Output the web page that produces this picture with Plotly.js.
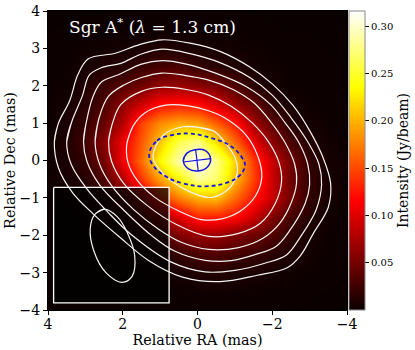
<!DOCTYPE html>
<html><head><meta charset="utf-8">
<script src="https://cdn.plot.ly/plotly-3.0.1.min.js"></script>
<style>html,body{margin:0;padding:0;background:#fff}#c{width:415px;height:350px}</style></head>
<body><div id="c"></div>
<script>
const ra=[4,3.5,3,2.5,2,1.5,1,.5,0,-.5,-1,-1.5,-2,-2.5,-3,-3.5,-4];
const dec=[4,3.5,3,2.5,2,1.5,1,.5,0,-.5,-1,-1.5,-2,-2.5,-3,-3.5,-4];
const intensity=[
[.0001,.0001,.0002,.0002,.0002,.0003,.0004,.0004,.0003,.0003,.0002,.0002,.0001,.0001,.0001,.0001,.0001],
[.0002,.0003,.0004,.0006,.0009,.0015,.002,.002,.0016,.0012,.0008,.0005,.0003,.0002,.0002,.0001,.0001],
[.0003,.0006,.002,.003,.0045,.0075,.0098,.0085,.0065,.005,.003,.002,.001,.0006,.0004,.0002,.0002],
[.0004,.001,.006,.0105,.013,.021,.028,.03,.019,.015,.0098,.0045,.002,.001,.0005,.0003,.0002],
[.0005,.002,.011,.023,.036,.048,.065,.068,.062,.052,.032,.014,.0055,.001,.0005,.0003,.0002],
[.001,.005,.015,.03,.063,.09,.12,.125,.12,.095,.066,.042,.015,.0055,.001,.0005,.0003],
[.001,.008,.02,.043,.08,.145,.18,.195,.19,.16,.125,.07,.039,.012,.004,.001,.0005],
[.002,.01,.025,.06,.11,.155,.21,.26,.28,.22,.165,.105,.06,.03,.01,.003,.001],
[.002,.0085,.019,.05,.11,.165,.235,.29,.316,.28,.215,.14,.09,.047,.019,.005,.002],
[.002,.0055,.012,.032,.08,.14,.19,.235,.285,.27,.205,.145,.09,.047,.018,.006,.002],
[.001,.002,.007,.016,.037,.08,.14,.175,.2,.205,.165,.125,.09,.048,.018,.0055,.001],
[.0005,.001,.002,.009,.016,.04,.07,.1,.13,.13,.12,.09,.055,.027,.012,.003,.0005],
[.0003,.0005,.001,.002,.0055,.014,.029,.055,.068,.068,.055,.047,.033,.016,.006,.001,.0003],
[.0002,.0003,.0004,.0008,.002,.0055,.011,.02,.03,.033,.027,.021,.0145,.0092,.0035,.0006,.0002],
[.0002,.0002,.0003,.0004,.0007,.0015,.003,.0055,.0095,.0105,.0085,.0065,.0048,.002,.001,.0004,.0002],
[.0001,.0001,.0002,.0002,.0003,.0005,.0008,.0012,.002,.0025,.002,.0016,.001,.0006,.0003,.0002,.0001],
[.0001,.0001,.0001,.0001,.0001,.0002,.0002,.0003,.0004,.0005,.0004,.0003,.0002,.0002,.0001,.0001,.0001]];

const c1ra=[3.83,3.72,3.42,3.2,2.92,2.2,1.55,.95,.2,-.6,-1.4,-2.0,-2.55,-3.0,-3.35,-3.56,-3.5,-3.1,-2.75,-2.4,-1.6,-.6,.4,1.3,2.07,2.8,3.35,3.72,3.83];
const c1dec=[.5,1.0,1.6,2.3,2.72,2.87,3.1,3.23,3.14,2.92,2.5,2.05,1.48,.8,.1,-.6,-1.25,-1.95,-2.55,-2.87,-3.07,-3.24,-3.12,-2.68,-2.06,-1.42,-.85,-.2,.5];
const c2ra=[3.5,3.36,3.08,2.9,2.58,2.05,1.5,.95,.2,-.6,-1.4,-2.0,-2.5,-2.95,-3.25,-3.32,-3.17,-2.75,-2.38,-1.8,-1.0,-.2,.7,1.8,2.4,2.96,3.38,3.5];
const c2dec=[.5,1.05,1.73,2.28,2.48,2.6,2.85,2.98,2.86,2.62,2.22,1.75,1.15,.5,-.1,-.65,-1.33,-2.05,-2.53,-2.75,-2.94,-2.98,-2.72,-1.96,-1.38,-.76,-.1,.5];
const c3ra=[3.05,2.98,2.8,2.57,2.1,1.5,.95,.3,-.5,-1.3,-1.95,-2.35,-2.7,-2.95,-3.0,-2.88,-2.47,-2.1,-1.6,-.9,-.2,.6,1.2,1.95,2.62,2.96,3.05];
const c3dec=[.5,1.0,1.7,2.1,2.3,2.58,2.67,2.58,2.33,1.98,1.5,1.0,.5,-.1,-.65,-1.15,-1.87,-2.3,-2.5,-2.68,-2.67,-2.43,-2.03,-1.35,-.65,-.02,.5];
const c4ra=[2.74,2.63,2.38,1.97,1.5,.95,.35,-.3,-.95,-1.5,-1.95,-2.33,-2.6,-2.65,-2.5,-2.2,-1.75,-1.1,-.3,.45,1.05,1.7,2.28,2.62,2.74];
const c4dec=[.5,1.15,1.72,2.02,2.22,2.34,2.28,2.15,1.9,1.55,1.05,.5,-.1,-.6,-1.15,-1.68,-2.08,-2.33,-2.38,-2.18,-1.83,-1.32,-.7,-.1,.5];
const c5ra=[2.38,2.28,2.05,1.5,.95,.3,-.3,-.9,-1.45,-1.9,-2.18,-2.25,-2.08,-1.68,-1.1,-.3,.55,1.35,1.97,2.3,2.38];
const c5dec=[.5,.98,1.5,1.85,1.96,1.9,1.75,1.45,1.02,.5,-.05,-.55,-1.15,-1.68,-1.95,-2.03,-1.72,-1.2,-.62,-.02,.5];
const c6ra=[1.89,1.72,1.4,.85,.25,-.3,-.8,-1.3,-1.62,-1.72,-1.55,-1.15,-.65,-.1,.5,1.15,1.62,1.86,1.89];
const c6dec=[.45,.93,1.28,1.48,1.46,1.33,1.1,.68,.1,-.45,-.95,-1.35,-1.56,-1.58,-1.35,-.98,-.52,-.05,.45];
const c7ra=[.33,-.41,-.8,-1,-1.07,-.95,-.73,-.33,.28,.92,1.19,.92,.33];
const c7dec=[.91,.8,.4,.09,-.31,-.62,-.84,-.99,-.8,-.35,.08,.67,.91];
const contourRA=[c1ra,c2ra,c3ra,c4ra,c5ra,c6ra,c7ra];
const contourDec=[c1dec,c2dec,c3dec,c4dec,c5dec,c6dec,c7dec];

const boxRA=[3.85,.76,.76,3.85,3.85];
const boxDec=[-.72,-.72,-3.81,-3.81,-.72];
const beamRA=[2.5,2.75,2.87,2.78,2.45,2.02,1.75,1.68,1.87,2.15,2.5];
const beamDec=[-1.3,-1.45,-1.82,-2.4,-3.0,-3.26,-3.1,-2.55,-1.95,-1.5,-1.3];
const dashRA=[1.29,1.08,.73,.2,-.33,-.87,-1.19,-1.27,-1.13,-.79,-.2,.39,.81,1.19,1.29];
const dashDec=[.19,.53,.67,.72,.61,.4,.08,-.13,-.4,-.59,-.69,-.61,-.45,-.13,.19];
const coreRA=[.38,.29,.07,-.2,-.35,-.26,-.02,.25,.38];
const coreDec=[0,.19,.29,.27,.05,-.18,-.28,-.22,0];
const crossHRA=[.38,-.35], crossHDec=[-.04,.05];
const crossVRA=[.05,-.02], crossVDec=[.29,-.28];

const FONT='"DejaVu Serif", serif';
const hot=[[0,'#0b0000'],[.365,'#ff0000'],[.746,'#ffff00'],[1,'#ffffff']];
const wrap=a=>a.concat([a[1]]);
const traces=[{
  type:'heatmap',x:ra,y:dec,z:intensity,zmin:0,zmax:.316,zsmooth:'best',colorscale:hot,hoverinfo:'skip',
  colorbar:{x:1.007,xanchor:'left',xpad:0,y:0,yanchor:'bottom',yref:'paper',len:1,ypad:0,thickness:16,thicknessmode:'pixels',
    outlinecolor:'#888',outlinewidth:1,ticks:'outside',ticklen:4,tickcolor:'#000',tickvals:[.05,.1,.15,.2,.25,.3],
    ticktext:['0.05','0.10','0.15','0.20','0.25','0.30'],tickfont:{family:FONT,size:10,color:'#000'},
    title:{text:'Intensity (Jy/beam)',side:'right',font:{family:FONT,size:14,color:'#000'}}}
},{
  type:'scatter',mode:'lines',x:boxRA,y:boxDec,fill:'toself',fillcolor:'rgba(0,0,0,0.72)',line:{color:'#fff',width:1.3},hoverinfo:'skip'
}];
contourRA.forEach((x,i)=>traces.push({type:'scatter',mode:'lines',x:wrap(x),y:wrap(contourDec[i]),
  line:{color:'#f4f4f4',width:1.2,shape:'spline',smoothing:1},hoverinfo:'skip'}));
traces.push({type:'scatter',mode:'lines',x:wrap(beamRA),y:wrap(beamDec),line:{color:'#f4f4f4',width:1.2,shape:'spline',smoothing:1.2},hoverinfo:'skip'});
traces.push({type:'scatter',mode:'lines',x:dashRA,y:dashDec,line:{color:'#1414e6',width:1.8,dash:'4px,3px',shape:'spline',smoothing:1.2},hoverinfo:'skip'});
traces.push({type:'scatter',mode:'lines',x:wrap(coreRA),y:wrap(coreDec),line:{color:'#1414e6',width:1.5,shape:'spline',smoothing:1.2},hoverinfo:'skip'});
traces.push({type:'scatter',mode:'lines',x:crossHRA,y:crossHDec,line:{color:'#1414e6',width:1.2},hoverinfo:'skip'});
traces.push({type:'scatter',mode:'lines',x:crossVRA,y:crossVDec,line:{color:'#1414e6',width:1.2},hoverinfo:'skip'});
const axisCommon={showgrid:false,zeroline:false,showline:true,mirror:true,linecolor:'#000',linewidth:1,ticks:'outside',ticklen:4,tickcolor:'#000',
  automargin:false,tickfont:{family:FONT,size:14,color:'#000'}};
const layout={width:415,height:350,margin:{l:47.5,r:68,t:10.5,b:40,autoexpand:false},paper_bgcolor:'#fff',plot_bgcolor:'#000',showlegend:false,
  xaxis:Object.assign({},axisCommon,{range:[4,-4],tickvals:[4,2,0,-2,-4],ticktext:['4','2','0','−2','−4'],ticklabelstandoff:-3,title:{text:'Relative RA (mas)',standoff:0,font:{family:FONT,size:14.3,color:'#000'}}}),
  yaxis:Object.assign({},axisCommon,{range:[-4,4],tickvals:[-4,-3,-2,-1,0,1,2,3,4],ticktext:['−4','−3','−2','−1','0','1','2','3','4'],title:{text:'Relative Dec (mas)',standoff:0,font:{family:FONT,size:14.3,color:'#000'}}}),
  annotations:[{xref:'paper',yref:'paper',x:.063,y:.95,xanchor:'left',yanchor:'middle',showarrow:false,
    text:'Sgr A<sup>*</sup> (<i>λ</i> = 1.3 cm)',font:{family:FONT,size:17,color:'#fff'}}]};
Plotly.newPlot('c',traces,layout,{displayModeBar:false,staticPlot:true});
</script></body></html>
